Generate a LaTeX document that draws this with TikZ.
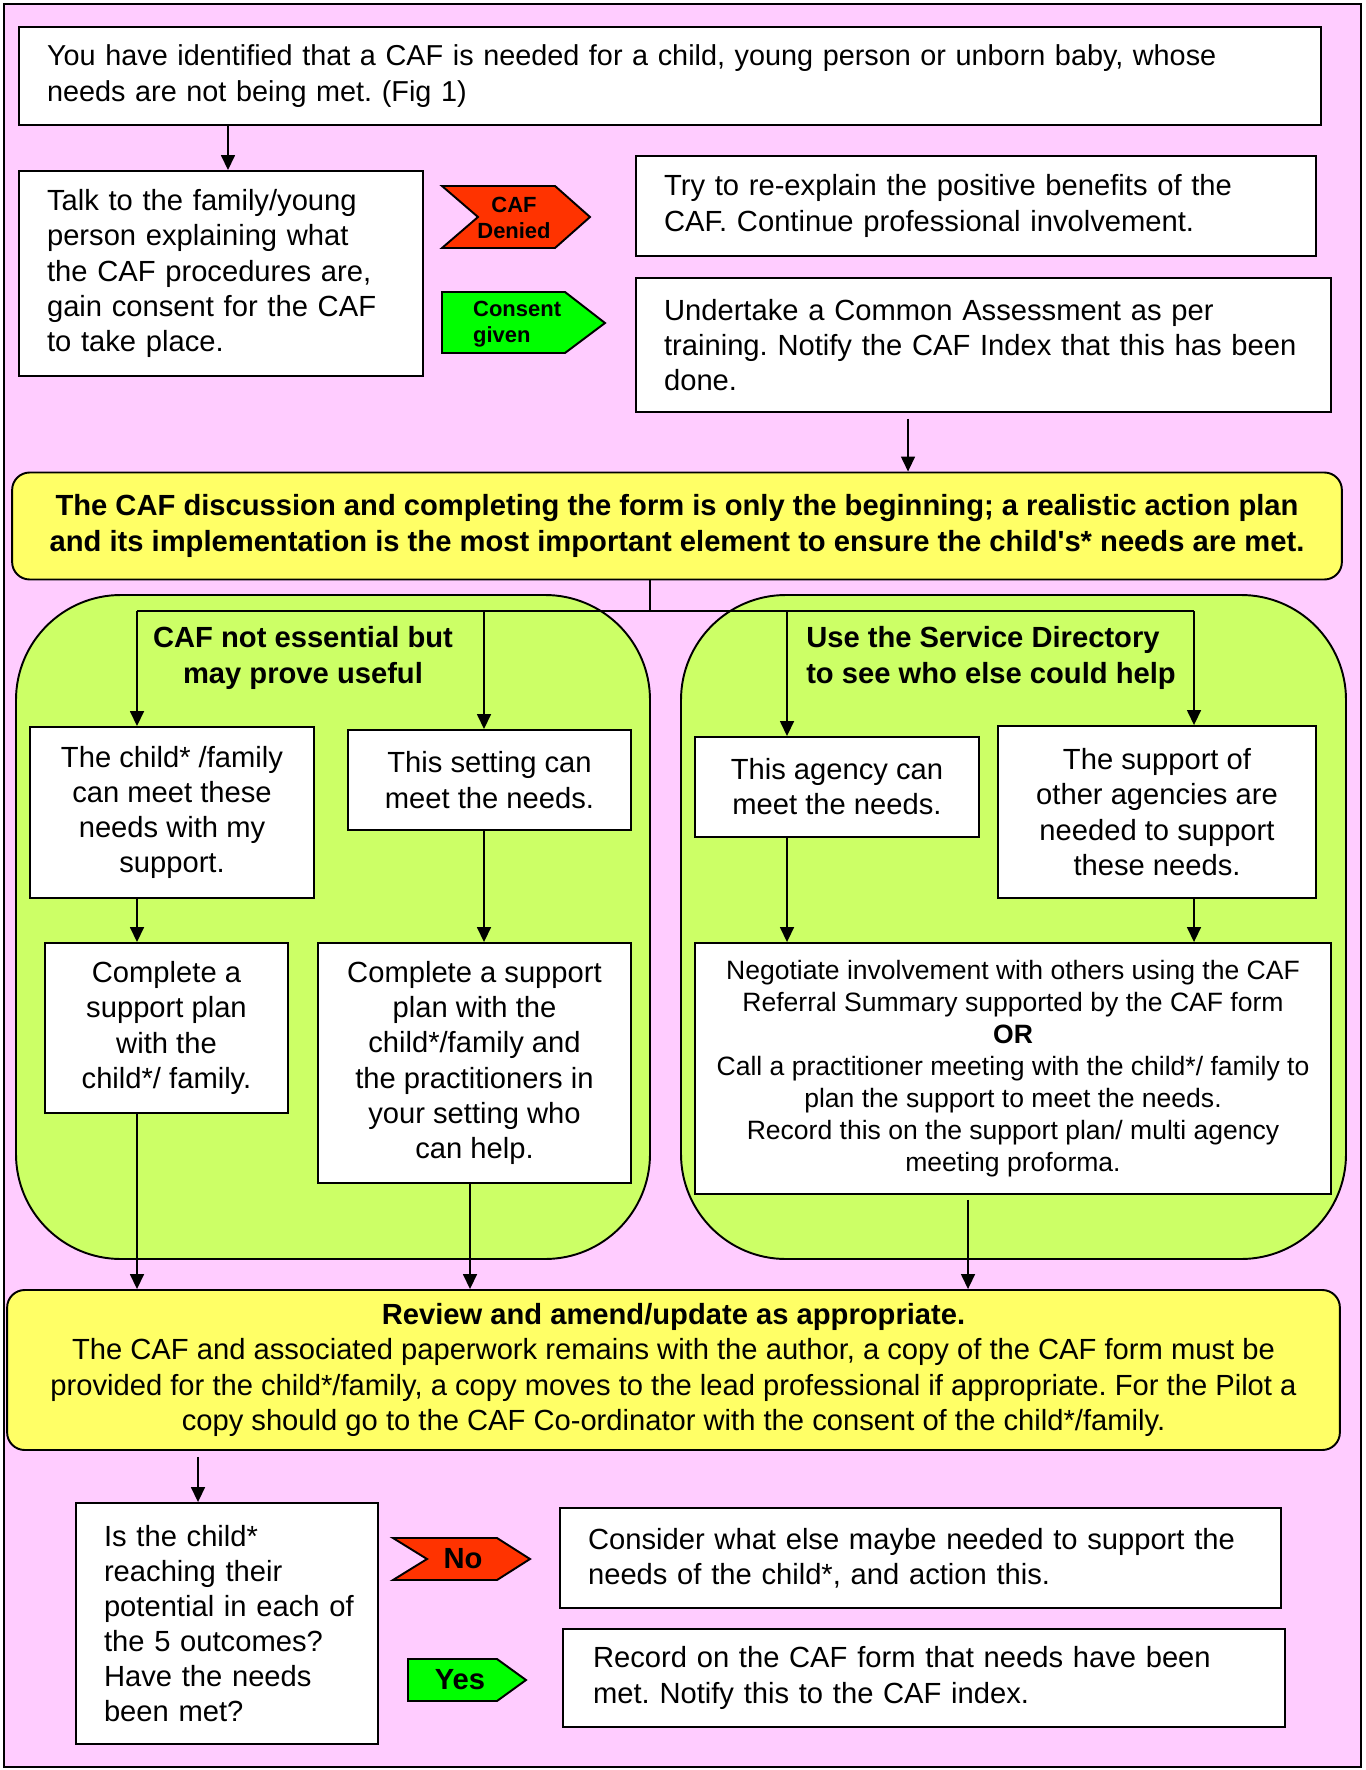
\documentclass[tikz,border=0pt]{standalone}
\usepackage{fontspec}
\setmainfont{Liberation Sans}
\usetikzlibrary{arrows.meta}
\definecolor{pinkbg}{HTML}{FFCCFF}
\definecolor{limebg}{HTML}{CCFF66}
\definecolor{yellowbg}{HTML}{FFFF66}
\definecolor{redsig}{HTML}{FF3300}
\definecolor{greensig}{HTML}{00FF00}
\tikzset{
  box/.style={draw, fill=white, line width=1.1pt, inner sep=0pt, align=center,
    font=\fontsize{16.6}{20}\selectfont},
  lbox/.style={box, inner xsep=0.56cm, align=left, text width=#1},
  note/.style={draw, fill=yellowbg, rounded corners=0.35cm, line width=1.1pt, inner sep=0pt,
    align=center, font=\fontsize{16.6}{20}\selectfont},
  region/.style={draw, fill=limebg, rounded corners=2.1cm, line width=1.1pt},
  head/.style={align=center, font=\bfseries\fontsize{16.6}{20}\selectfont},
  sign/.style={draw, line width=1.1pt, line join=miter},
  signtext/.style={align=left, font=\bfseries\fontsize{12.5}{15}\selectfont},
  line/.style={line width=0.9pt},
  arrow/.style={line, -{Triangle[length=0.3cm, width=0.28cm]}}
}
\frenchspacing
\begin{document}
\begin{tikzpicture}[x=0.02cm, y=-0.02cm]
\useasboundingbox (0,0) rectangle (1365,1770);
\draw[line width=1.1pt, fill=pinkbg] (4,4) rectangle (1361,1767);

% green areas
\draw[region] (16,595) rectangle (650,1259);
\draw[region] (681,595) rectangle (1346,1259);

% top part
\node[lbox=24.92cm, minimum width=26.04cm, minimum height=1.96cm, font=\fontsize{16.4}{20}\selectfont] (ident) at (670,76)
  {You have identified that a CAF is needed for a child, young person or unborn baby, whose\\needs are not being met. (Fig 1)};
\node[lbox=6.96cm, minimum width=8.08cm, minimum height=4.1cm] (talk) at (221,273.5)
  {Talk to the family/young\\person explaining what\\the CAF procedures are,\\gain consent for the CAF\\to take place.};
\node[lbox=12.48cm, minimum width=13.6cm, minimum height=2cm] (reexplain) at (976,206)
  {Try to re-explain the positive benefits of the\\CAF. Continue professional involvement.};
\node[lbox=12.78cm, minimum width=13.9cm, minimum height=2.68cm] (assess) at (983.5,345)
  {Undertake a Common Assessment as per\\training. Notify the CAF Index that this has been\\done.};

\draw[sign, fill=redsig] (442,186) -- (555,186) -- (590,217) -- (555,248) -- (442,248) -- (478,217) -- cycle;
\node[signtext, align=center] (denied) at (514,218) {CAF\\Denied};
\draw[sign, fill=greensig] (442,292) -- (565,292) -- (605,323) -- (565,353) -- (442,353) -- cycle;
\node[signtext, anchor=west] (consent) at (467,324) {Consent\\given};

\node[note, minimum width=26.6cm, minimum height=2.14cm, font=\bfseries\fontsize{16.6}{20}\selectfont] (start) at (677,526)
  {The CAF discussion and completing the form is only the beginning; a realistic action plan\\and its implementation is the most important element to ensure the child\textquotesingle s* needs are met.};

% two branches
\node[head] (useful) at (303,658) {CAF not essential but\\may prove useful};
\node[head, align=left] (directory) at (991,658) {Use the Service Directory\\to see who else could help};

\node[box, minimum width=5.68cm, minimum height=3.42cm] (childsup) at (172,812.5)
  {The child* /family\\can meet these\\needs with my\\support.};
\node[box, minimum width=5.66cm, minimum height=2cm] (setting) at (489.5,780)
  {This setting can\\meet the needs.};
\node[box, minimum width=5.68cm, minimum height=2cm] (agency) at (837,787)
  {This agency can\\meet the needs.};
\node[box, minimum width=6.36cm, minimum height=3.44cm] (others) at (1157,812)
  {The support of\\other agencies are\\needed to support\\these needs.};
\node[box, minimum width=4.86cm, minimum height=3.4cm] (plan) at (166.5,1028)
  {Complete a\\support plan\\with the\\child*/ family.};
\node[box, minimum width=6.26cm, minimum height=4.8cm] (planset) at (474.5,1063)
  {Complete a support\\plan with the\\child*/family and\\the practitioners in\\your setting who\\can help.};
\node[box, minimum width=12.72cm, minimum height=5.02cm, font=\fontsize{15.1}{18.2}\selectfont] (negotiate) at (1013,1068.5)
  {Negotiate involvement with others using the CAF\\Referral Summary supported by the CAF form\\\textbf{OR}\\Call a practitioner meeting with the child*/ family to\\plan the support to meet the needs.\\Record this on the support plan/ multi agency\\meeting proforma.};

\node[note, minimum width=26.66cm, minimum height=3.2cm] (review) at (673.5,1370)
  {\textbf{Review and amend/update as appropriate.}\\The CAF and associated paperwork remains with the author, a copy of the CAF form must be\\provided for the child*/family, a copy moves to the lead professional if appropriate. For the Pilot a\\copy should go to the CAF Co-ordinator with the consent of the child*/family.};

% bottom part
\node[lbox=4.92cm, minimum width=6.04cm, minimum height=4.82cm] (question) at (227,1623.5)
  {Is the child*\\reaching their\\\mbox{potential in each of}\\the 5 outcomes?\\Have the needs\\been met?};
\draw[sign, fill=redsig] (393,1538) -- (497,1538) -- (530,1559) -- (497,1580) -- (393,1580) -- (427,1559) -- cycle;
\node[signtext, font=\bfseries\fontsize{16.6}{20}\selectfont] (no) at (463,1559) {No};
\draw[sign, fill=greensig] (408,1659) -- (497,1659) -- (526,1680) -- (497,1701) -- (408,1701) -- cycle;
\node[signtext, font=\bfseries\fontsize{16.6}{20}\selectfont] (yes) at (460,1680) {Yes};
\node[lbox=13.3cm, minimum width=14.42cm, minimum height=2cm] (consider) at (920.5,1558)
  {Consider what else maybe needed to support the\\needs of the child*, and action this.};
\node[lbox=13.24cm, inner xsep=0.6cm, minimum width=14.44cm, minimum height=1.96cm] (record) at (924,1678)
  {Record on the CAF form that needs have been\\met. Notify this to the CAF index.};

% connectors
\coordinate (split) at (650,611);
\coordinate (s1) at (137,611);
\coordinate (s2) at (484,611);
\coordinate (s3) at (787,611);
\coordinate (s4) at (1194,611);
\draw[arrow] ([xshift=0.14cm]talk.north |- ident.south) -- ([xshift=0.14cm]talk.north);
\draw[arrow, shorten <=0.12cm] ([xshift=-1.51cm]assess.south) -- ([xshift=-1.51cm]assess.south |- start.north);
\draw[line] (split |- start.south) -- (split);
\draw[line] (s1) -- (s4);
\draw[arrow] (s1) -- (s1 |- childsup.north);
\draw[arrow] (s2) -- (s2 |- setting.north);
\draw[arrow] (s3) -- (s3 |- agency.north);
\draw[arrow] (s4) -- (s4 |- others.north);
\draw[arrow] (s1 |- childsup.south) -- (s1 |- plan.north);
\draw[arrow] (s2 |- setting.south) -- (s2 |- planset.north);
\draw[arrow] (s3 |- agency.south) -- (s3 |- negotiate.north);
\draw[arrow] (s4 |- others.south) -- (s4 |- negotiate.north);
\draw[arrow] (s1 |- plan.south) -- (s1 |- review.north);
\draw[arrow] ([xshift=-0.09cm]planset.south) -- ([xshift=-0.09cm]planset.south |- review.north);
\draw[arrow, shorten <=0.1cm] ([xshift=-0.9cm]negotiate.south) -- ([xshift=-0.9cm]negotiate.south |- review.north);
\draw[arrow, shorten <=0.12cm] ([xshift=-0.58cm]question.north |- review.south) -- ([xshift=-0.58cm]question.north);
\end{tikzpicture}
\end{document}
